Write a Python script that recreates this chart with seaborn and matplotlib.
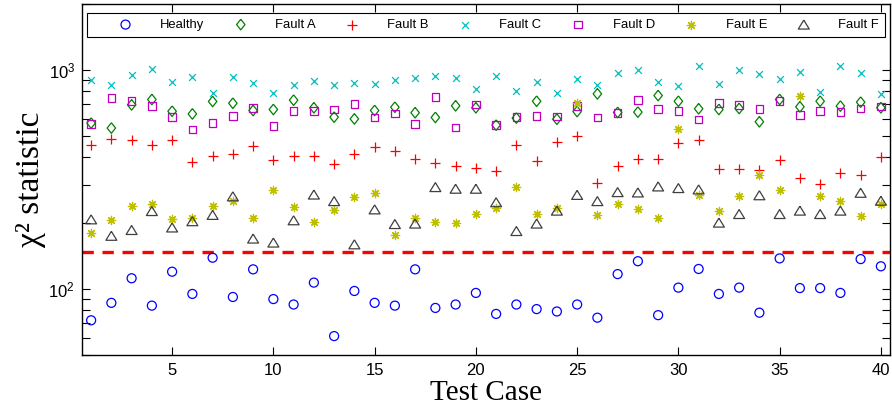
import numpy as np
import pandas as pd
import matplotlib
matplotlib.use("Agg")
import matplotlib.pyplot as plt
import seaborn as sns
from matplotlib.ticker import NullFormatter, FixedLocator, LogLocator

# ---------------- data ----------------
cases = list(range(1, 41))
series_names = ["Healthy", "Fault A", "Fault B", "Fault C", "Fault D", "Fault E", "Fault F"]

healthy = [72, 86.5, 112, 84, 120, 95, 139, 92, 123, 90, 85, 107, 61, 98, 86.5, 84, 123, 82, 85, 96,
           77, 85, 81, 79, 85, 74, 117, 134, 76, 101.5, 123.5, 95, 101.5, 78, 138, 101, 101, 96, 137, 127]
fault_a = [572, 543, 693, 733, 648, 630, 718, 705, 653, 660, 728, 672, 609, 598, 653, 676, 638, 607, 686, 672,
           560, 603, 720, 596, 646, 778, 640, 642, 764, 720, 665, 660, 667, 580, 733, 679, 720, 684, 713, 672]
fault_b = [453, 484, 477, 453, 477, 380, 403, 415, 448, 390, 403, 403, 371, 413, 446, 425, 394, 378, 366, 356,
           345, 454, 383, 469, 497, 305, 366, 391, 391, 464, 480, 354, 354, 351, 390, 321, 303, 339, 331, 399]
fault_c = [901, 855, 949, 1010, 882, 926, 788, 926, 873, 786, 855, 888, 858, 876, 861, 897, 920, 942, 923, 822,
           939, 803, 885, 788, 907, 858, 969, 1000, 882, 846, 1043, 867, 997, 956, 910, 976, 797, 1043, 966, 778]
fault_d = [568, 746, 720, 684, 609, 535, 574, 616, 669, 554, 648, 648, 660, 700, 607, 633, 566, 751, 547, 695,
           560, 609, 618, 613, 686, 607, 635, 730, 665, 651, 594, 708, 691, 662, 720, 624, 651, 642, 667, 680]
fault_e = [180, 206, 240, 245, 209, 210, 240, 253, 211, 283, 237, 203, 229, 262, 275, 177, 211, 203, 201, 221,
           235, 292, 220, 234, 705, 217, 244, 232, 210, 537, 268, 227, 265, 331, 284, 759, 265, 253, 215, 244]
fault_f = [208, 175, 186, 227, 191, 204, 218, 265, 170, 163, 206, 270, 252, 160, 231, 198, 199, 292, 287, 287,
           249, 184, 199, 228, 269, 252, 277, 276, 294, 289, 285, 201, 220, 268, 220, 228, 220, 228, 275, 253]
threshold = 147
x_ticks = [5, 10, 15, 20, 25, 30, 35, 40]

# ---------------- style ----------------
sns.set_theme(style="ticks")
plt.rcParams["font.family"] = ["Liberation Sans", "DejaVu Sans"]
plt.rcParams.update({
    "text.color": "black", "axes.labelcolor": "black",
    "xtick.color": "black", "ytick.color": "black",
    "axes.edgecolor": "black",
})

df = pd.DataFrame({"case": cases, "Healthy": healthy, "Fault A": fault_a, "Fault B": fault_b,
                   "Fault C": fault_c, "Fault D": fault_d, "Fault E": fault_e, "Fault F": fault_f})
long = df.melt(id_vars="case", var_name="series", value_name="chi2")

diamond = [(0, 1), (0.8, 0), (0, -1), (-0.8, 0), (0, 1)]
triangle = [(0, 0.82), (1, -0.82), (-1, -0.82), (0, 0.82)]
styles = {
    "Healthy": dict(marker="o", color=(0, 0, 1), open=True, s=42),
    "Fault A": dict(marker=diamond, color=(0, 0.5, 0), open=True, s=58),
    "Fault B": dict(marker="+", color=(1, 0, 0), open=False, s=44),
    "Fault C": dict(marker="x", color=(0, 0.75, 0.75), open=False, s=24),
    "Fault D": dict(marker="s", color=(0.75, 0, 0.75), open=True, s=30),
    "Fault E": dict(marker=(8, 2, 0), color=(0.75, 0.75, 0), open=False, s=36),
    "Fault F": dict(marker=triangle, color=(0.25, 0.25, 0.25), open=True, s=62),
}

fig = plt.figure(figsize=(8.92, 4.18), dpi=100)
ax = fig.add_axes([82 / 892, 1 - 355 / 418, 808 / 892, 351 / 418])
ax.set_yscale("log")

for name in series_names:
    st = styles[name]
    sub = long[long["series"] == name]
    kw = dict(data=sub, x="case", y="chi2", ax=ax, marker=st["marker"], s=st["s"],
              label=name, linewidth=0.9, zorder=3, color=st["color"])
    if st["open"]:
        kw.update(facecolor="none", edgecolor=st["color"])
    sns.scatterplot(**kw)

ax.axhline(threshold, color=(1, 0, 0), linestyle=(0, (3.4, 2.6)), linewidth=2.4, zorder=2)

ax.set_xlim(0.55, 40.45)
ax.set_ylim(50, 2000)
ax.xaxis.set_major_locator(FixedLocator(x_ticks))
ax.yaxis.set_major_locator(LogLocator(base=10))
ax.yaxis.set_minor_locator(LogLocator(base=10, subs=np.arange(2, 10)))
ax.yaxis.set_minor_formatter(NullFormatter())

ax.tick_params(which="both", direction="in", top=True, right=True, length=5.8, width=0.8)
ax.tick_params(axis="both", which="major", labelsize=12, pad=5)
ax.tick_params(axis="x", which="major", pad=6)
for sp in ax.spines.values():
    sp.set_linewidth(1.0)
    sp.set_color("black")

ax.set_xlabel("Test Case", fontfamily="Liberation Serif", fontsize=21, labelpad=1)
ax.set_ylabel("χ² statistic", fontfamily="Liberation Serif", fontsize=24, labelpad=2)

leg = ax.legend(loc="upper left", bbox_to_anchor=(5 / 808, 0, 798 / 808, 1 - 9 / 351),
                mode="expand", ncol=7, borderaxespad=0, frameon=True, fancybox=False,
                framealpha=1, edgecolor="black", handlelength=5, handletextpad=0.15,
                borderpad=0.45, fontsize=9.4, scatterpoints=1, columnspacing=0.5)
leg.get_frame().set_linewidth(0.8)

fig.savefig("out.png", dpi=100)
